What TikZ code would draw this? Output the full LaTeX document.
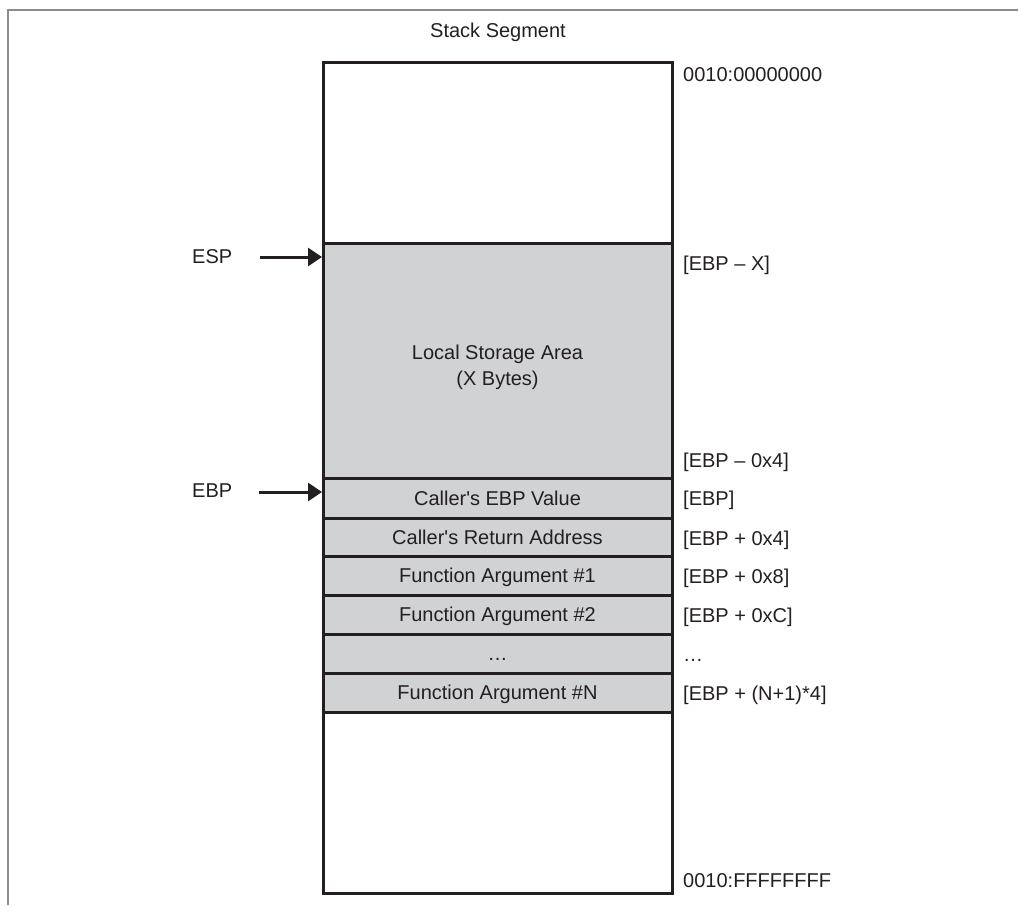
\documentclass[tikz,border=0pt]{standalone}
\usepackage{fontspec}
\setmainfont{Liberation Sans}
\usetikzlibrary{arrows.meta}
\definecolor{ink}{HTML}{231F20}
\definecolor{cell}{HTML}{D1D2D4}
\definecolor{framegray}{HTML}{8C8C8C}
\begin{document}
\begin{tikzpicture}[x=1pt,y=-1pt,
  every node/.style={font=\fontsize{20}{26}\selectfont, text=ink},
  cellbox/.style={draw=ink, line width=3pt, minimum width=349pt, inner sep=0pt, outer sep=0pt, anchor=north west, fill=cell, text height=14pt, text depth=0pt},
  blank/.style={cellbox, fill=white},
  lbl/.style={anchor=base west, inner sep=0pt},
  ptr/.style={draw=ink, line width=3pt, -{Triangle[length=14pt,width=18pt]}}
]
\useasboundingbox (0,0) rectangle (1019,905);
\draw[framegray, line width=2pt] (8,905) -- (8,10) -- (1018,10);

\node[anchor=base, inner sep=0pt] (title) at (498,37) {Stack Segment};

\node[blank, minimum height=181pt] (free) at (323,62) {};
\node[cellbox, minimum height=235pt] (local) at (323,243) {};
\node[anchor=base, inner sep=0pt, align=center] (localtxt) at (497.5,385) {Local Storage Area\\(X Bytes)};
\node[cellbox, minimum height=40pt] (cebp) at (323,478) {Caller\textquotesingle s EBP Value};
\node[cellbox, minimum height=38pt] (cret) at (323,518) {Caller\textquotesingle s Return Address};
\node[cellbox, minimum height=39pt] (arg1) at (323,556) {Function Argument \#1};
\node[cellbox, minimum height=39pt] (arg2) at (323,595) {Function Argument \#2};
\node[cellbox, minimum height=39pt] (dots) at (323,634) {\dots};
\node[cellbox, minimum height=39pt] (argn) at (323,673) {Function Argument \#N};
\node[blank, minimum height=181pt] (rest) at (323,712) {};

\node[lbl] (a0) at (683,81) {0010:00000000};
\node[lbl] (a1) at (683,270) {[EBP – X]};
\node[lbl] (a2) at (683,467) {[EBP – 0x4]};
\node[lbl] (a3) at (683,505) {[EBP]};
\node[lbl] (a4) at (683,545) {[EBP + 0x4]};
\node[lbl] (a5) at (683,583) {[EBP + 0x8]};
\node[lbl] (a6) at (683,622) {[EBP + 0xC]};
\node[lbl] (a7) at (683,661) {\dots};
\node[lbl] (a8) at (683,700) {[EBP + (N+1)*4]};
\node[lbl] (a9) at (683,887) {0010:FFFFFFFF};

\node[lbl] (esp) at (192,263) {ESP};
\node[lbl] (ebp) at (192,497) {EBP};
\coordinate (espA) at (260,257);
\coordinate (espB) at (322,257);
\coordinate (ebpA) at (259,492);
\coordinate (ebpB) at (322,492);
\draw[ptr] (espA) -- (espB);
\draw[ptr] (ebpA) -- (ebpB);
\end{tikzpicture}
\end{document}
